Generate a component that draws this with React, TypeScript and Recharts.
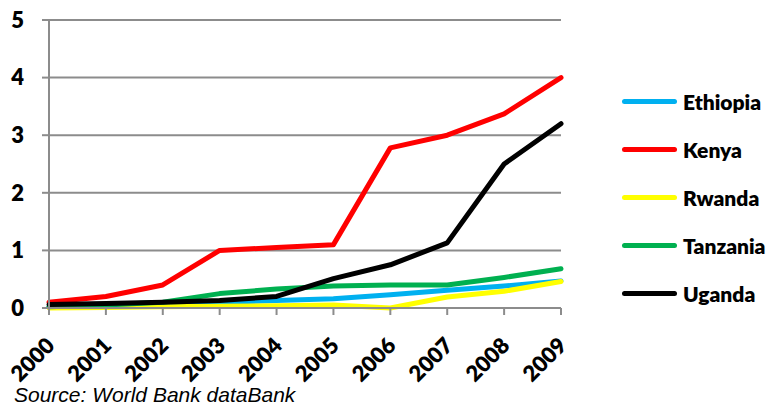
import { LineChart, Line, XAxis, YAxis, CartesianGrid } from 'recharts'

const years = ['2000', '2001', '2002', '2003', '2004', '2005', '2006', '2007', '2008', '2009']
const ethiopia = [0.02, 0.04, 0.07, 0.1, 0.13, 0.16, 0.23, 0.31, 0.38, 0.47]
const kenya = [0.1, 0.2, 0.4, 1.0, 1.05, 1.1, 2.78, 3.0, 3.37, 4.0]
const rwanda = [0.0, 0.01, 0.02, 0.03, 0.04, 0.05, 0.0, 0.19, 0.29, 0.46]
const tanzania = [0.02, 0.05, 0.1, 0.25, 0.33, 0.38, 0.4, 0.4, 0.53, 0.68]
const uganda = [0.06, 0.08, 0.1, 0.13, 0.2, 0.51, 0.75, 1.13, 2.5, 3.2]
const yTicks = [0, 1, 2, 3, 4, 5]

const series = [
  { key: 'Ethiopia', color: '#00B0F0' },
  { key: 'Kenya', color: '#FF0000' },
  { key: 'Rwanda', color: '#FFFF00' },
  { key: 'Tanzania', color: '#00B050' },
  { key: 'Uganda', color: '#000000' },
]

const data = years.map((year, i) => ({
  year,
  Ethiopia: ethiopia[i],
  Kenya: kenya[i],
  Rwanda: rwanda[i],
  Tanzania: tanzania[i],
  Uganda: uganda[i],
}))

const FONT = 'Lato, "Open Sans", sans-serif'
const GRID = '#8c8c8c'

function YearTick({ x, y, payload }: any) {
  const tx = x + 7
  const ty = y + 30
  return (
    <text x={tx} y={ty} transform={`rotate(-45 ${tx} ${ty})`} textAnchor="end"
      fontFamily={FONT} fontWeight={800} fontSize={22} fill="#000">
      {payload.value}
    </text>
  )
}

export default function App() {
  return (
    <div style={{ position: 'absolute', left: 0, top: 0, width: 784, height: 405, background: '#fff' }}>
      <LineChart width={784} height={405} data={data} margin={{ top: 20, right: 223, left: 0, bottom: 22 }}>
        <CartesianGrid vertical={false} stroke={GRID} strokeWidth={2} />
        <XAxis dataKey="year" interval={0} height={75} tickSize={7} tick={<YearTick />}
          axisLine={{ stroke: GRID, strokeWidth: 2 }} tickLine={{ stroke: GRID, strokeWidth: 2 }} />
        <YAxis domain={[0, 5]} ticks={yTicks} width={49} tickSize={7} tickMargin={18}
          axisLine={{ stroke: GRID, strokeWidth: 2 }} tickLine={{ stroke: GRID, strokeWidth: 2 }}
          tick={{ fontFamily: FONT, fontWeight: 800, fontSize: 22, fill: '#000' }} />
        {series.map((s) => (
          <Line key={s.key} type="linear" dataKey={s.key} stroke={s.color} strokeWidth={5}
            dot={false} strokeLinejoin="round" strokeLinecap="round" isAnimationActive={false} />
        ))}
      </LineChart>
      <div style={{ position: 'absolute', left: 622, top: 77, fontFamily: FONT, fontWeight: 800, fontSize: 21 }}>
        {series.map((s) => (
          <div key={s.key} style={{ display: 'flex', alignItems: 'center', height: 48 }}>
            <div style={{ width: 55, height: 5, borderRadius: 3, background: s.color, marginRight: 6 }} />
            <span>{s.key}</span>
          </div>
        ))}
      </div>
      <div style={{ position: 'absolute', left: 14, top: 383, fontFamily: '"Liberation Sans", Arial, sans-serif',
        fontStyle: 'italic', fontSize: 21, color: '#000', whiteSpace: 'nowrap' }}>
        Source: World Bank dataBank
      </div>
    </div>
  )
}
